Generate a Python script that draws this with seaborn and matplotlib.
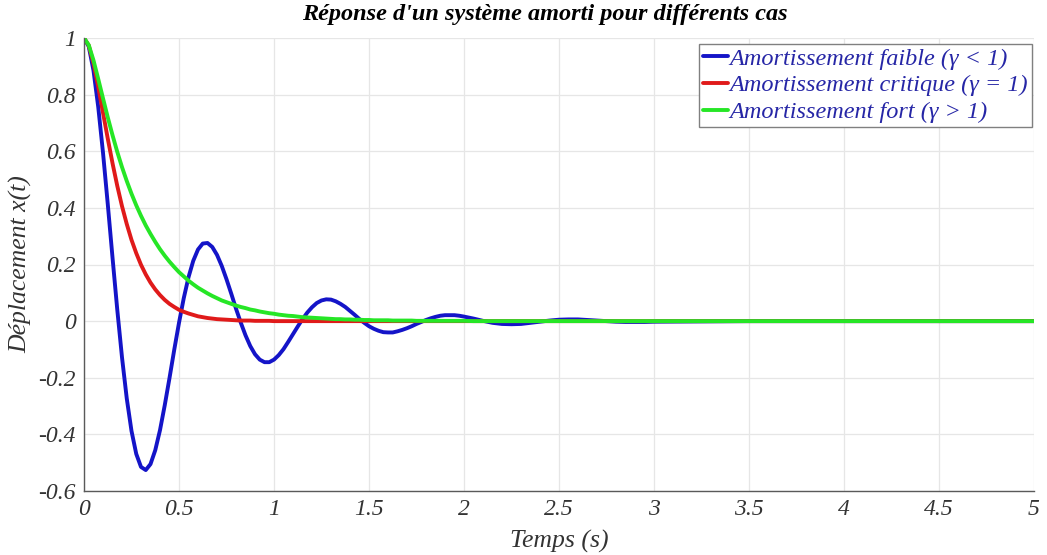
import numpy as np
import pandas as pd
import matplotlib
matplotlib.use("Agg")
import matplotlib.pyplot as plt
from matplotlib.lines import Line2D
import seaborn as sns

# ---- data ----
temps = [0.000, 0.025, 0.050, 0.075, 0.100, 0.125, 0.150, 0.175, 0.200, 0.225,
         0.250, 0.275, 0.300, 0.325, 0.350, 0.375, 0.400, 0.425, 0.450, 0.475,
         0.500, 0.525, 0.550, 0.575, 0.600, 0.625, 0.650, 0.675, 0.700, 0.725,
         0.750, 0.775, 0.800, 0.825, 0.850, 0.875, 0.900, 0.925, 0.950, 0.975,
         1.000, 1.025, 1.050, 1.075, 1.100, 1.125, 1.150, 1.175, 1.200, 1.225,
         1.250, 1.275, 1.300, 1.325, 1.350, 1.375, 1.400, 1.425, 1.450, 1.475,
         1.500, 1.525, 1.550, 1.575, 1.600, 1.625, 1.650, 1.675, 1.700, 1.725,
         1.750, 1.775, 1.800, 1.825, 1.850, 1.875, 1.900, 1.925, 1.950, 1.975,
         2.000, 2.050, 2.100, 2.150, 2.200, 2.250, 2.300, 2.350, 2.400, 2.450,
         2.500, 2.550, 2.600, 2.650, 2.700, 2.750, 2.800, 2.850, 2.900, 2.950,
         3.000, 3.500, 4.000, 4.500, 5.000]

faible = [1.000, 0.970, 0.885, 0.756, 0.595, 0.414, 0.225, 0.041, -0.128, -0.273,
          -0.388, -0.469, -0.515, -0.526, -0.505, -0.456, -0.385, -0.297, -0.201, -0.101,
          -0.006, 0.081, 0.155, 0.213, 0.253, 0.274, 0.276, 0.262, 0.234, 0.195,
          0.148, 0.097, 0.044, -0.005, -0.050, -0.088, -0.117, -0.136, -0.145, -0.145,
          -0.136, -0.120, -0.099, -0.073, -0.046, -0.019, 0.007, 0.030, 0.049, 0.064,
          0.073, 0.077, 0.076, 0.070, 0.061, 0.050, 0.036, 0.022, 0.007, -0.006,
          -0.018, -0.027, -0.034, -0.039, -0.040, -0.040, -0.036, -0.031, -0.025, -0.018,
          -0.010, -0.003, 0.004, 0.010, 0.015, 0.019, 0.021, 0.021, 0.021, 0.019,
          0.016, 0.009, 0.001, -0.006, -0.010, -0.011, -0.010, -0.006, -0.002, 0.002,
          0.005, 0.006, 0.006, 0.004, 0.002, 0.000, -0.002, -0.003, -0.003, -0.003,
          -0.002, 0.000, 0.000, 0.000, 0.000]

critique = [1.000, 0.974, 0.910, 0.827, 0.736, 0.645, 0.558, 0.478, 0.406, 0.343,
            0.287, 0.240, 0.199, 0.165, 0.136, 0.112, 0.092, 0.075, 0.061, 0.050,
            0.040, 0.033, 0.027, 0.022, 0.017, 0.014, 0.011, 0.009, 0.007, 0.006,
            0.005, 0.004, 0.003, 0.002, 0.002, 0.002, 0.001, 0.001, 0.001, 0.001,
            0.000, 0.000, 0.000, 0.000, 0.000, 0.000, 0.000, 0.000, 0.000, 0.000,
            0.000, 0.000, 0.000, 0.000, 0.000, 0.000, 0.000, 0.000, 0.000, 0.000,
            0.000, 0.000, 0.000, 0.000, 0.000, 0.000, 0.000, 0.000, 0.000, 0.000,
            0.000, 0.000, 0.000, 0.000, 0.000, 0.000, 0.000, 0.000, 0.000, 0.000,
            0.000, 0.000, 0.000, 0.000, 0.000, 0.000, 0.000, 0.000, 0.000, 0.000,
            0.000, 0.000, 0.000, 0.000, 0.000, 0.000, 0.000, 0.000, 0.000, 0.000,
            0.000, 0.000, 0.000, 0.000, 0.000]

fort = [1.000, 0.975, 0.921, 0.855, 0.787, 0.720, 0.657, 0.598, 0.544, 0.495,
        0.450, 0.409, 0.372, 0.338, 0.308, 0.280, 0.254, 0.231, 0.210, 0.191,
        0.173, 0.158, 0.143, 0.130, 0.118, 0.108, 0.098, 0.089, 0.081, 0.073,
        0.067, 0.061, 0.055, 0.050, 0.046, 0.041, 0.038, 0.034, 0.031, 0.028,
        0.026, 0.023, 0.021, 0.019, 0.018, 0.016, 0.014, 0.013, 0.012, 0.011,
        0.010, 0.009, 0.008, 0.007, 0.007, 0.006, 0.006, 0.005, 0.005, 0.004,
        0.004, 0.003, 0.003, 0.003, 0.003, 0.002, 0.002, 0.002, 0.002, 0.002,
        0.001, 0.001, 0.001, 0.001, 0.001, 0.001, 0.001, 0.001, 0.001, 0.001,
        0.001, 0.000, 0.000, 0.000, 0.000, 0.000, 0.000, 0.000, 0.000, 0.000,
        0.000, 0.000, 0.000, 0.000, 0.000, 0.000, 0.000, 0.000, 0.000, 0.000,
        0.000, 0.000, 0.000, 0.000, 0.000]

labels = ["Amortissement faible (γ < 1)",
          "Amortissement critique (γ = 1)",
          "Amortissement fort (γ > 1)"]
colors = ["#1414c8", "#e01a1a", "#26e626"]

x_ticks = [0, 0.5, 1, 1.5, 2, 2.5, 3, 3.5, 4, 4.5, 5]
x_ticklabels = ["0", "0.5", "1", "1.5", "2", "2.5", "3", "3.5", "4", "4.5", "5"]
y_ticks = [-0.6, -0.4, -0.2, 0, 0.2, 0.4, 0.6, 0.8, 1]
y_ticklabels = ["-0.6", "-0.4", "-0.2", "0", "0.2", "0.4", "0.6", "0.8", "1"]

df = pd.DataFrame({
    "t": temps * 3,
    "x": faible + critique + fort,
    "cas": [labels[0]] * len(temps) + [labels[1]] * len(temps) + [labels[2]] * len(temps),
})

# ---- style ----
sns.set_style("whitegrid")
plt.rcParams["font.family"] = ["Liberation Serif", "DejaVu Serif"]

fig = plt.figure(figsize=(10.47, 5.55), dpi=100)
ax = fig.add_axes([84 / 1047, 1 - 491 / 555, (1034 - 84) / 1047, (491 - 38) / 555])

sns.lineplot(data=df, x="t", y="x", hue="cas", hue_order=labels,
             palette=colors, linewidth=2.8, ax=ax, legend=False, sort=False)

ax.set_xlim(0, 5)
ax.set_ylim(-0.6, 1)
ax.set_xticks(x_ticks)
ax.set_xticklabels(x_ticklabels)
ax.set_yticks(y_ticks)
ax.set_yticklabels(y_ticklabels)

ax.grid(True, color="#e6e6e6", linewidth=0.9)
for s in ["top", "right"]:
    ax.spines[s].set_visible(False)
for s in ["left", "bottom"]:
    ax.spines[s].set_visible(True)
    ax.spines[s].set_color("#5a5a5a")
    ax.spines[s].set_linewidth(1.0)

ax.tick_params(axis="both", direction="in", length=5, width=0.9, color="#5a5a5a",
               labelsize=17, labelcolor="#333333", pad=6)
for lab in ax.get_xticklabels() + ax.get_yticklabels():
    lab.set_fontstyle("italic")

ax.set_xlabel("Temps (s)", fontsize=18.5, fontstyle="italic", color="#333333", labelpad=7)
ax.set_ylabel("Déplacement x(t)", fontsize=18.5, fontstyle="italic", color="#333333", labelpad=4)
ax.set_title("Réponse d'un système amorti pour différents cas", fontsize=17.5,
             fontweight="bold", fontstyle="italic", color="black", x=0.485, pad=13)

handles = [Line2D([0], [0], color=c, linewidth=2.8) for c in colors]
leg = ax.legend(handles, labels, loc="upper right", bbox_to_anchor=(0.9975, 0.987),
                frameon=True, fancybox=False, framealpha=1, edgecolor="#808080",
                prop={"family": ["Liberation Serif"], "style": "italic", "size": 17.5},
                handlelength=1.05, handletextpad=0.05, borderpad=0.15, labelspacing=0.2,
                borderaxespad=0.0)
leg.get_frame().set_linewidth(1.0)
for txt in leg.get_texts():
    txt.set_color("#2626a6")

fig.savefig("out.png", dpi=100, facecolor="white")
